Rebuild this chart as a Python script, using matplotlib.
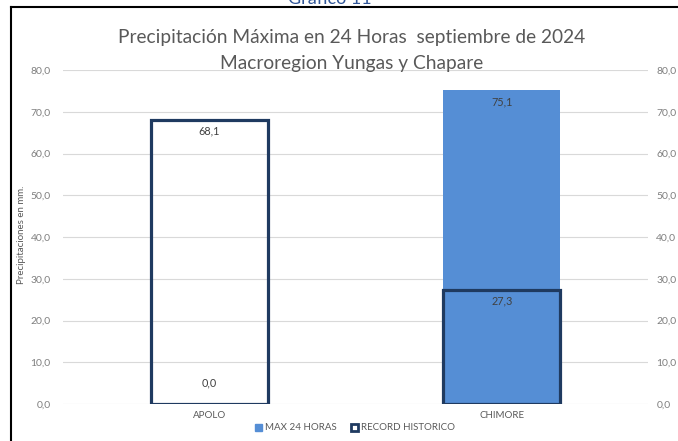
import matplotlib
matplotlib.use("Agg")
import matplotlib.pyplot as plt
from matplotlib.patches import Patch
from matplotlib.lines import Line2D

categories = ["APOLO", "CHIMORE"]
max24 = [0.0, 75.1]
record = [68.1, 27.3]
yticks = [0, 10, 20, 30, 40, 50, 60, 70, 80]
title_lines = ["Precipitación Máxima en 24 Horas  septiembre de 2024", "Macroregion Yungas y Chapare"]

W, H = 678, 441
plt.rcParams['font.family'] = ['Lato', 'DejaVu Sans']
fig = plt.figure(figsize=(W / 100, H / 100), dpi=100)

def px(x0, y0, x1, y1):
    return [x0 / W, 1 - y1 / H, (x1 - x0) / W, (y1 - y0) / H]

ax = fig.add_axes(px(63, 70, 648, 404))
blue = "#558ED5"
navy = "#1F3A60"
x = list(range(len(categories)))
ax.bar(x, max24, width=0.40, color=blue, zorder=2)
ax.bar(x, record, width=0.40, facecolor="none", edgecolor=navy, linewidth=2.3, zorder=3)

ticklabels = [f"{v:.1f}".replace(".", ",") for v in yticks]
ax.set_xlim(-0.5, 1.5)
ax.set_ylim(0, 80)
ax.set_yticks(yticks)
ax.set_yticklabels(ticklabels)
ax.tick_params(axis='y', length=0, labelsize=7.5, labelcolor="#7F7F7F", pad=9)
ax2 = ax.twinx()
ax2.set_ylim(0, 80)
ax2.set_yticks(yticks)
ax2.set_yticklabels(ticklabels)
ax2.tick_params(axis='y', length=0, labelsize=7.5, labelcolor="#7F7F7F", pad=6)
for a in (ax, ax2):
    for s in a.spines.values():
        s.set_visible(False)

ax.set_xticks(x)
ax.set_xticklabels(categories)
ax.tick_params(axis='x', length=0, labelsize=7, labelcolor="#595959", pad=5)
ax.grid(axis='y', color="#D9D9D9", linewidth=0.8, zorder=0)
ax.set_axisbelow(True)

lblc = "#404040"
for i, v in enumerate(record):
    ax.annotate(f"{v:.1f}".replace(".", ","), (i, v), xytext=(0, -8), textcoords="offset points",
                ha="center", va="center", fontsize=7.8, color=lblc, zorder=5)
for i, v in enumerate(max24):
    off = -8 if v > 5 else 15
    ax.annotate(f"{v:.1f}".replace(".", ","), (i, v), xytext=(0, off), textcoords="offset points",
                ha="center", va="center", fontsize=7.8, color=lblc, zorder=5)

fig.text(352 / W, 1 - 38 / H, title_lines[0], ha="center", va="center", fontsize=13.8, color="#595959")
fig.text(352 / W, 1 - 63 / H, title_lines[1], ha="center", va="center", fontsize=13.8, color="#595959")
fig.text(22 / W, 1 - 235 / H, "Precipitaciones en mm.", rotation=90, ha="center", va="center",
         fontsize=7, color="#595959")
fig.text(330 / W, 1 + 1 / H, "Gráfico 11", ha="center", va="center", fontsize=13, color="#2F5597")

handles = [Patch(facecolor=blue, edgecolor=blue),
           Patch(facecolor="white", edgecolor=navy, linewidth=2)]
fig.legend(handles, ["MAX 24 HORAS", "RECORD HISTORICO"], loc="center",
           bbox_to_anchor=(355 / W, 1 - 428 / H), ncol=2, frameon=False, fontsize=7,
           labelcolor="#595959", handlelength=0.7, handleheight=0.7, handletextpad=0.3,
           columnspacing=1.5)

fig.add_artist(Line2D([11 / W, 11 / W], [0, 1 - 7 / H], color="black", lw=1.5))
fig.add_artist(Line2D([11 / W, 1], [1 - 7 / H, 1 - 7 / H], color="black", lw=1.5))

fig.savefig("out.png", dpi=100)
